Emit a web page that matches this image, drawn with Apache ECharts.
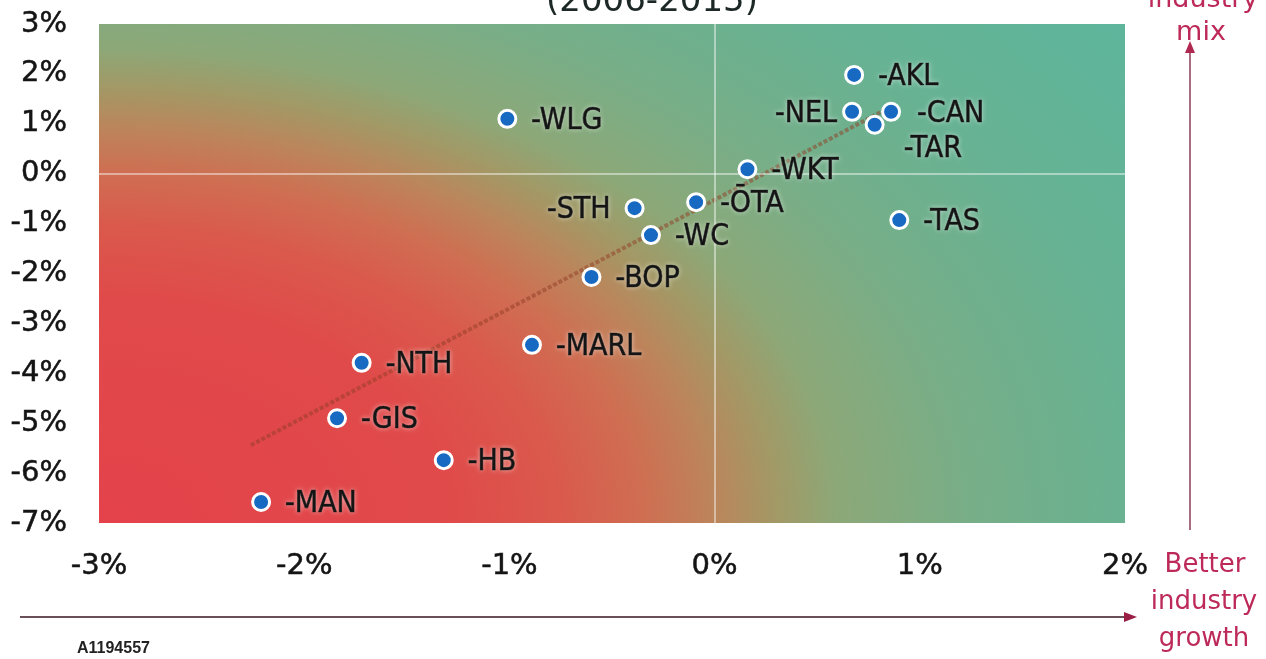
<!DOCTYPE html>
<html>
<head>
<meta charset="utf-8">
<script src="https://cdn.jsdelivr.net/npm/echarts@6/dist/echarts.min.js"></script>
<style>
  html, body { margin: 0; padding: 0; background: #ffffff; }
  #chart { width: 1266px; height: 659px; }
</style>
</head>
<body>
<div id="chart"></div>
<script>
// Regional growth decomposition: industry growth (x) vs industry mix (y), in %
const regions        = ['AKL', 'NEL', 'CAN', 'TAR', 'WKT', 'TAS', 'ŌTA', 'STH', 'WC', 'BOP', 'WLG', 'MARL', 'NTH', 'GIS', 'HB', 'MAN'];
const industryGrowth = [0.68, 0.67, 0.86, 0.78, 0.16, 0.90, -0.09, -0.39, -0.31, -0.60, -1.01, -0.89, -1.72, -1.84, -1.32, -2.21];
const industryMix    = [1.98, 1.24, 1.24, 0.98, 0.09, -0.93, -0.57, -0.69, -1.23, -2.07, 1.10, -3.43, -3.79, -4.90, -5.74, -6.58];

// Linear trend line end points
const trendX = [-2.26, 0.83];
const trendY = [-5.44, 1.28];

// Axis ranges
const xRange = [-3, 2];
const yRange = [-7, 3];

const FONT = '"DejaVu Sans", Verdana, sans-serif';
const LABEL_FONT = '"DejaVu Sans Condensed", "DejaVu Sans", sans-serif';
const RED = '#bd2a5a';
const INK = '#141414';

// Label placement for crowded points
const labelPlacement = {
  NEL: { position: 'left', distance: 5 },
  STH: { position: 'left', distance: 14 },
  CAN: { position: 'right', distance: 16 },
  TAR: { position: 'right', distance: 19, offset: [0, 24] }
};

const points = regions.map((name, i) => {
  const p = labelPlacement[name] || { position: 'right', distance: 14 };
  return {
    name: name,
    value: [industryGrowth[i], industryMix[i]],
    label: { position: p.position, distance: p.distance, offset: p.offset || [0, 2] }
  };
});

const chart = echarts.init(document.getElementById('chart'), null, { renderer: 'canvas' });

const axisLabelStyle = {
  color: INK,
  fontSize: 29,
  fontFamily: FONT,
  textBorderColor: INK,
  textBorderWidth: 0.5,
  formatter: '{value}%'
};

chart.setOption({
  animation: false,
  backgroundColor: '#ffffff',
  grid: { left: 99, right: 141, top: 24, bottom: 136, containLabel: false, outerBoundsMode: 'none' },
  xAxis: {
    type: 'value', min: xRange[0], max: xRange[1], interval: 1,
    axisLine: { show: false }, axisTick: { show: false }, splitLine: { show: false },
    axisLabel: Object.assign({ margin: 29 }, axisLabelStyle)
  },
  yAxis: {
    type: 'value', min: yRange[0], max: yRange[1], interval: 1,
    axisLine: { show: false }, axisTick: { show: false }, splitLine: { show: false },
    axisLabel: Object.assign({ margin: 32 }, axisLabelStyle)
  },
  series: [
    {
      type: 'line',
      data: trendX.map((x, i) => [x, trendY[i]]),
      showSymbol: false,
      symbol: 'none',
      z: 3,
      silent: true,
      lineStyle: { color: 'rgba(145, 62, 38, 0.5)', width: 4, type: [4, 2] },
      markLine: {
        silent: true,
        symbol: 'none',
        label: { show: false },
        lineStyle: { color: 'rgba(255,255,255,0.45)', width: 2, type: 'solid' },
        data: [{ xAxis: 0 }, { yAxis: 0 }]
      }
    },
    {
      type: 'scatter',
      data: points,
      symbol: 'circle',
      symbolSize: 17,
      z: 5,
      itemStyle: { color: '#1769c2', borderColor: '#ffffff', borderWidth: 3, opacity: 1 },
      label: {
        show: true,
        formatter: p => '-' + p.name,
        color: INK,
        fontSize: 30,
        fontFamily: LABEL_FONT,
        textBorderColor: 'rgba(20,20,20,0.9)',
        textBorderWidth: 0.7,
        textShadowColor: 'rgba(255,255,255,0.5)',
        textShadowBlur: 5
      }
    }
  ]
});

// Plot-area background and annotations, placed from the grid's own coordinates
const tl = chart.convertToPixel({ gridIndex: 0 }, [xRange[0], yRange[1]]);
const br = chart.convertToPixel({ gridIndex: 0 }, [xRange[1], yRange[0]]);
const W = br[0] - tl[0];
const H = br[1] - tl[1];

// Elliptical colour field anchored at the lower-left corner of the plot
const RX = 1.4 * H;       // horizontal radius of the unit contour (px)
const RY = 0.9 * H;       // vertical radius of the unit contour (px)
const UNIT = 100;         // local units per unit contour
const reach = 1.9;        // outermost contour
const sx = RX / UNIT;
const sy = RY / UNIT;

const stops = [
  [0.00, '#e4424b'],
  [0.50, '#e04a4a'],
  [0.66, '#da594c'],
  [0.78, '#cf6e52'],
  [0.88, '#bc855b'],
  [0.97, '#a29966'],
  [1.06, '#8ca878'],
  [1.25, '#77ae88'],
  [1.50, '#67b293'],
  [1.90, '#5cb69d']
].map(s => ({ offset: s[0] / reach, color: s[1] }));

const field = new echarts.graphic.RadialGradient(0, H / sy, UNIT * reach, stops, true);

chart.setOption({
  graphic: [
    {
      type: 'rect', z: -10, silent: true,
      x: tl[0], y: tl[1], scaleX: sx, scaleY: sy,
      shape: { x: 0, y: 0, width: W / sx, height: H / sy },
      style: { fill: field }
    },
    {
      type: 'text', silent: true, x: 652, y: 2,
      style: { text: '(2006-2015)', fill: '#1c2826', font: '34px ' + FONT, textAlign: 'center', textVerticalAlign: 'middle' }
    },
    // vertical arrow: industry mix
    {
      type: 'line', silent: true,
      shape: { x1: 1190, y1: 530, x2: 1190, y2: 50 },
      style: { stroke: '#a86e80', lineWidth: 2 }
    },
    {
      type: 'polygon', silent: true,
      shape: { points: [[1190, 41], [1185, 53], [1195, 53]] },
      style: { fill: '#b0284f' }
    },
    {
      type: 'text', silent: true, x: 1203, y: 0,
      style: { text: 'industry', fill: RED, font: '27px ' + FONT, textAlign: 'center', textVerticalAlign: 'middle' }
    },
    {
      type: 'text', silent: true, x: 1201, y: 33,
      style: { text: 'mix', fill: RED, font: '27px ' + FONT, textAlign: 'center', textVerticalAlign: 'middle' }
    },
    // horizontal arrow: better industry growth
    {
      type: 'line', silent: true,
      shape: { x1: 20, y1: 617, x2: 1126, y2: 617 },
      style: { stroke: '#6a4e58', lineWidth: 2 }
    },
    {
      type: 'polygon', silent: true,
      shape: { points: [[1137, 617], [1124, 612], [1124, 622]] },
      style: { fill: '#9a1f45' }
    },
    {
      type: 'text', silent: true, x: 1205, y: 565,
      style: { text: 'Better', fill: RED, font: '26px ' + FONT, textAlign: 'center', textVerticalAlign: 'middle' }
    },
    {
      type: 'text', silent: true, x: 1204, y: 602,
      style: { text: 'industry', fill: RED, font: '26px ' + FONT, textAlign: 'center', textVerticalAlign: 'middle' }
    },
    {
      type: 'text', silent: true, x: 1204, y: 639,
      style: { text: 'growth', fill: RED, font: '26px ' + FONT, textAlign: 'center', textVerticalAlign: 'middle' }
    },
    {
      type: 'text', silent: true, x: 77, y: 649,
      style: { text: 'A1194557', fill: '#222222', font: 'bold 16px "Liberation Sans", Arial, sans-serif', textAlign: 'left', textVerticalAlign: 'middle' }
    }
  ]
});
</script>
</body>
</html>
